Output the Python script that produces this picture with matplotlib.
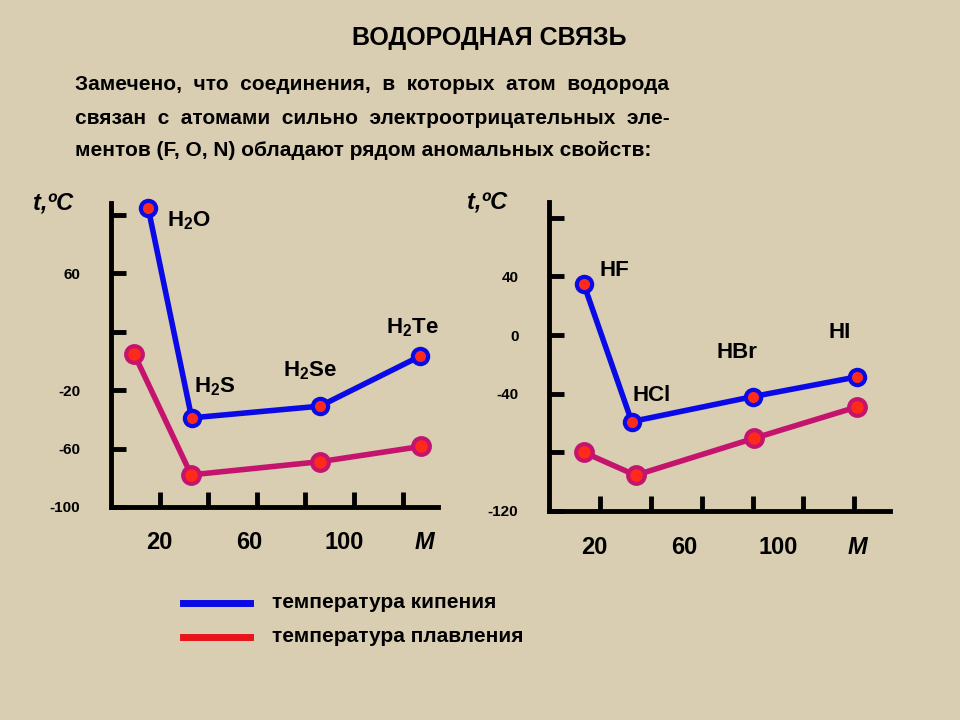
import matplotlib
matplotlib.use("Agg")
import matplotlib.pyplot as plt

plt.rcParams['font.family'] = 'Liberation Sans'
plt.rcParams['mathtext.fontset'] = 'custom'
plt.rcParams['mathtext.bf'] = 'Liberation Sans:bold'
plt.rcParams['mathtext.rm'] = 'Liberation Sans:bold'
plt.rcParams['mathtext.default'] = 'bf'

# group VI hydrides: molar mass (as read), boiling and melting points
m6 = [15.3, 33.2, 86, 127]
boil6 = [104.6, -39, -31, 3]
m6_melt = [9.5, 33, 86, 127.5]
melt6 = [4.8, -78, -69, -58.6]
names6 = ['H$_2$O', 'H$_2$S', 'H$_2$Se', 'H$_2$Te']

# group VII hydrides
m7 = [13.7, 32.5, 80, 121]
boil7 = [34.6, -59, -42, -28.5]
m7_melt = [13.7, 34, 80.4, 121]
melt7 = [-80, -95.6, -70.5, -49]
names7 = ['HF', 'HCl', 'HBr', 'HI']

xlabels = ['20', '60', '100', 'M']
bg = '#d9cdb2'
blue = '#0a0ae6'
red = '#c4146e'

fig = plt.figure(figsize=(9.6, 7.2), dpi=100, facecolor=bg)

def panel(rect, xmax, ylim, yticks, ylab, xlab_pos, mb, boil, mm, melt, names, name_pos):
  ax = fig.add_axes(rect)
  ax.set_facecolor('none')
  ax.set_xlim(0, xmax)
  ax.set_ylim(*ylim)
  for s in ['top', 'right']:
    ax.spines[s].set_visible(False)
  for s in ['left', 'bottom']:
    ax.spines[s].set_linewidth(3.5)
  ax.set_xticks([20, 40, 60, 80, 100, 120])
  ax.set_xticklabels([])
  ax.set_yticks(yticks)
  ax.set_yticklabels(ylab, fontsize=11, fontweight='bold')
  ax.tick_params(axis='both', direction='in', length=11, width=3.5)
  ax.tick_params(axis='y', pad=22)
  for xp, t in zip(xlab_pos, xlabels):
    ax.text(xp, -0.08, t, transform=ax.get_xaxis_transform(), ha='center', va='top',
            fontsize=17, fontweight='bold', fontstyle='italic' if t == 'M' else 'normal')
  ax.plot(mm, melt, color=red, lw=4, marker='o', ms=12, mfc='#ff2a1a', mec=red, mew=3, zorder=3,
          clip_on=False)
  ax.plot(mb, boil, color=blue, lw=4, marker='o', ms=11, mfc='#ff2a1a', mec=blue, mew=3, zorder=4,
          clip_on=False)
  for (x, y), n in zip(name_pos, names):
    ax.text(x, y, n, fontsize=16, fontweight='bold', ha='left', va='center')
  ax.text(-0.24, 1.0, 't,ºC', transform=ax.transAxes, fontsize=17, fontweight='bold',
          fontstyle='italic', ha='left', va='center')
  return ax

panel([111/960, 1 - 507/720, 327/960, 304/720], 134.6, (-100, 108),
      [-100, -60, -20, 20, 60, 100], ['-100', '-60', '-20', '', '60', ''],
      [20, 57, 96, 129], m6, boil6, m6_melt, melt6, names6,
      [(23, 96), (34, -18), (71, -7), (113, 23)])
panel([549/960, 1 - 511/720, 341/960, 309/720], 134, (-120, 90.8),
      [-120, -80, -40, 0, 40, 80], ['-120', '', '-40', '0', '40', ''],
      [18, 53, 90, 121], m7, boil7, m7_melt, melt7, names7,
      [(20, 44), (33, -41), (66, -12), (110, 2)])

fig.text(0.51, 0.947, 'ВОДОРОДНАЯ СВЯЗЬ', ha='center', va='center', fontsize=18, fontweight='bold')
lines = ['Замечено,  что  соединения,  в  которых  атом  водорода',
         'связан  с  атомами  сильно  электроотрицательных  эле-',
         'ментов (F, O, N) обладают рядом аномальных свойств:']
for i, t in enumerate(lines):
  fig.text(75/960, 1 - (85 + 33*i)/720, t, ha='left', va='center', fontsize=15, fontweight='bold')

for y, c, t in [(603, blue, 'температура кипения'), (637, '#e8141a', 'температура плавления')]:
  fig.add_artist(plt.Line2D([183/960, 250/960], [1 - y/720]*2, color=c, lw=5))
  fig.text(272/960, 1 - y/720, t, ha='left', va='center', fontsize=15, fontweight='bold')

fig.savefig('out.png', dpi=100, facecolor=bg)
